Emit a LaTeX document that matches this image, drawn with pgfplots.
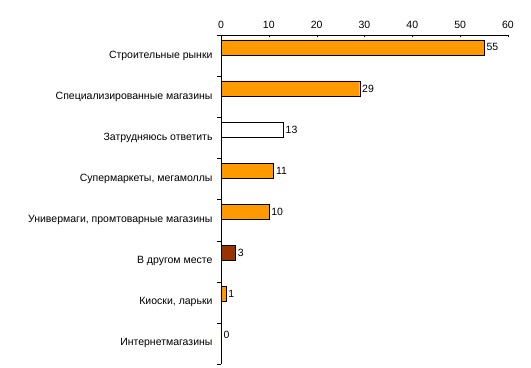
\documentclass[border=0pt]{standalone}
\usepackage{pgfplots}
\pgfplotsset{compat=1.18}
\usepackage{fontspec}
\setmainfont{Liberation Sans}
\definecolor{orng}{HTML}{FF9900}
\definecolor{brwn}{HTML}{993300}
\begin{document}
\begin{tikzpicture}
\path (-221bp,-4bp) rectangle (310bp,364bp);
\begin{axis}[
 at={(0,0)}, anchor=south west,
 scale only axis, width=287bp, height=329bp,
 xbar, bar width=15bp,
 xmin=0, xmax=60, ymin=-0.5, ymax=7.5,
 axis x line*=top, axis y line*=left,
 axis line style={black, line width=0.8pt},
 xtick={0,10,...,60},
 ytick={0,...,7},
 yticklabels={Интернетмагазины, {Киоски, ларьки}, В другом месте, {Универмаги, промтоварные магазины}, {Супермаркеты, мегамоллы}, Затрудняюсь ответить, Специализированные магазины, Строительные рынки},
 major y tick style={draw=none},
 minor ytick={-0.5,0.5,...,7.5},
 minor tick length=4bp,
 major tick length=2bp,
 tick align=outside,
 major x tick style={black, yshift=-2bp},
 minor y tick style={black},
 /pgf/number format/assume math mode=true,
 tick label style={font=\fontsize{10.5bp}{12bp}\selectfont},
 xticklabel style={yshift=1bp},
 yticklabel style={xshift=-3bp},
 nodes near coords,
 every node near coord/.append style={font=\fontsize{10.5bp}{12bp}\selectfont, black, xshift=-1bp},
]
\addplot[bar shift=0pt, fill=orng, draw=black] coordinates {(55,7.2) (29,6.2) (11,4.2) (10,3.2) (1,1.2) (0,0.2)};
\addplot[bar shift=0pt, fill=white, draw=black] coordinates {(13,5.2)};
\addplot[bar shift=0pt, fill=brwn, draw=black] coordinates {(3,2.2)};
\end{axis}
\end{tikzpicture}
\end{document}
